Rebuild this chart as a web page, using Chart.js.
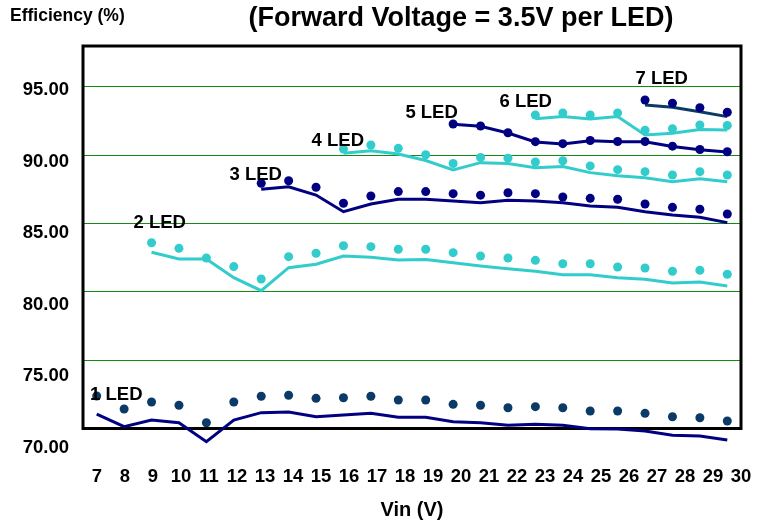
<!DOCTYPE html>
<html>
<head>
<meta charset="utf-8">
<script src="https://cdn.jsdelivr.net/npm/chart.js@4.4.0/dist/chart.umd.min.js"></script>
<style>
html,body{margin:0;padding:0;background:#ffffff;}
#wrap{width:771px;height:527px;}
</style>
</head>
<body>
<div id="wrap"><canvas id="c" width="771" height="527"></canvas></div>
<script>
// ---- data ----
const vin = [7,8,9,10,11,12,13,14,15,16,17,18,19,20,21,22,23,24,25,26,27,28,29,30];
const xTickLabels = [7,8,9,10,11,12,13,14,15,16,17,18,19,20,21,22,23,24,25,26,27,28,29,30];
const yTickLabels = [70,75,80,85,90,95];

const led1Dots = [72.38,71.43,71.94,71.70,70.42,71.94,72.36,72.43,72.21,72.25,72.36,72.09,72.09,71.77,71.70,71.52,71.60,71.52,71.28,71.28,71.11,70.86,70.79,70.55];
const led1Line = [71.06,70.13,70.62,70.42,69.03,70.62,71.16,71.21,70.86,70.99,71.11,70.82,70.82,70.50,70.42,70.23,70.31,70.23,69.99,69.96,69.82,69.50,69.45,69.16];

const led2Dots = [null,null,83.60,83.19,82.48,81.85,80.94,82.58,82.83,83.38,83.31,83.12,83.12,82.87,82.63,82.48,82.31,82.06,82.06,81.82,81.75,81.51,81.58,81.29];
const led2Line = [null,null,82.90,82.41,82.41,81.04,80.09,81.77,82.02,82.63,82.53,82.34,82.37,82.14,81.90,81.70,81.51,81.26,81.26,81.04,80.92,80.65,80.72,80.43];

const led3Dots = [null,null,null,null,null,null,87.95,88.14,87.66,86.49,87.02,87.34,87.34,87.19,87.08,87.26,87.19,86.95,86.85,86.78,86.43,86.19,86.05,85.70];
const led3Line = [null,null,null,null,null,null,87.51,87.70,87.09,85.87,86.43,86.78,86.78,86.65,86.53,86.71,86.65,86.53,86.29,86.19,85.87,85.63,85.46,85.07];

const led4Dots = [null,null,null,null,null,null,null,null,null,90.46,90.75,90.51,90.04,89.40,89.84,89.79,89.51,89.60,89.22,88.95,88.80,88.56,88.80,88.56];
const led4Line = [null,null,null,null,null,null,null,null,null,90.15,90.34,90.10,89.62,88.92,89.46,89.39,89.09,89.17,88.73,88.51,88.36,88.07,88.29,88.07];

const led5Dots = [null,null,null,null,null,null,null,null,null,null,null,null,null,92.29,92.14,91.65,91.00,90.85,91.08,91.01,91.01,90.67,90.42,90.26];
const led5Line = [null,null,null,null,null,null,null,null,null,null,null,null,null,92.27,92.12,91.63,90.98,90.83,91.06,90.99,90.99,90.65,90.40,90.24];

const led6Dots = [null,null,null,null,null,null,null,null,null,null,null,null,null,null,null,null,92.95,93.10,92.95,93.10,91.83,91.95,92.22,92.18];
const led6Line = [null,null,null,null,null,null,null,null,null,null,null,null,null,null,null,null,92.68,92.83,92.66,92.83,91.49,91.61,91.89,91.85];

const led7Dots = [null,null,null,null,null,null,null,null,null,null,null,null,null,null,null,null,null,null,null,null,94.05,93.81,93.48,93.15];
const led7Line = [null,null,null,null,null,null,null,null,null,null,null,null,null,null,null,null,null,null,null,null,93.68,93.51,93.19,92.83];

const ledNames = ['1 LED','2 LED','3 LED','4 LED','5 LED','6 LED','7 LED'];
const titleText = '(Forward Voltage = 3.5V per LED)';
const yTitleText = 'Efficiency (%)';
const xTitleText = 'Vin (V)';

// ---- styles ----
const NAVY = '#000080';
const DARK = '#0b3a66';
const CYAN = '#33CCCC';
const FONT = '"Liberation Sans", Arial, Helvetica, sans-serif';

// label anchors in data units (x on tick axis, y on value axis)
const ledLabelAnchors = [
  {x:7.69, y:72.45},
  {x:9.24, y:85.07},
  {x:12.67, y:88.56},
  {x:15.60, y:91.07},
  {x:18.95, y:93.10},
  {x:22.31, y:93.88},
  {x:27.17, y:95.56}
];

function dots(data, color){
  return {type:'line', data, showLine:false, pointRadius:4.5, pointHoverRadius:4.5,
    pointBackgroundColor:color, pointBorderColor:color, pointBorderWidth:0,
    borderColor:color, backgroundColor:color, clip:false};
}
function line(data, color){
  return {type:'line', data, pointRadius:0, pointHoverRadius:0, borderColor:color,
    borderWidth:3, tension:0, fill:false, clip:false};
}

const decor = {
  id:'decor',
  beforeDatasetsDraw(chart){
    const {ctx, chartArea:a} = chart;
    ctx.save();
    ctx.strokeStyle = '#000';
    ctx.lineWidth = 3;
    ctx.strokeRect(a.left, a.top, a.right - a.left, a.bottom - a.top);
    ctx.restore();
  },
  afterDatasetsDraw(chart){
    const {ctx} = chart;
    const xs = chart.scales.x2, ys = chart.scales.y;
    ctx.save();
    ctx.fillStyle = '#000';
    ctx.font = 'bold 18.5px ' + FONT;
    ctx.textAlign = 'center';
    ctx.textBaseline = 'middle';
    ledNames.forEach((t,i)=>{
      const p = ledLabelAnchors[i];
      ctx.fillText(t, xs.getPixelForValue(p.x), ys.getPixelForValue(p.y));
    });
    ctx.restore();
  },
  afterDraw(chart){
    const {ctx} = chart;
    ctx.save();
    ctx.fillStyle = '#000';
    ctx.textBaseline = 'middle';
    ctx.font = 'bold 27px ' + FONT;
    ctx.textAlign = 'center';
    ctx.fillText(titleText, 461, 19);
    ctx.font = 'bold 17.5px ' + FONT;
    ctx.textAlign = 'left';
    ctx.fillText(yTitleText, 10, 16);
    ctx.restore();
  }
};

new Chart(document.getElementById('c'), {
  type:'line',
  data:{
    labels: vin,
    datasets:[
      dots(led1Dots, DARK), line(led1Line, NAVY),
      dots(led2Dots, CYAN), line(led2Line, CYAN),
      dots(led3Dots, NAVY), line(led3Line, NAVY),
      dots(led4Dots, CYAN), line(led4Line, CYAN),
      dots(led5Dots, NAVY), line(led5Line, NAVY),
      dots(led6Dots, CYAN), line(led6Line, CYAN),
      dots(led7Dots, NAVY), line(led7Line, DARK)
    ]
  },
  options:{
    responsive:false,
    animation:false,
    events:[],
    layout:{padding:{top:46, right:30, left:0, bottom:0}},
    plugins:{legend:{display:false}, tooltip:{enabled:false}, title:{display:false}},
    scales:{
      x:{type:'category', display:false, offset:true},
      x2:{
        type:'linear', position:'bottom', min:6.5, max:30,
        grid:{display:false, drawTicks:true, tickLength:37}, border:{display:false},
        afterBuildTicks:(s)=>{ s.ticks = xTickLabels.map(v=>({value:v})); },
        ticks:{autoSkip:false, maxRotation:0, padding:0, color:'#000',
          font:{family:FONT, size:18.5, weight:'bold'}},
        title:{display:true, text:xTitleText, color:'#000',
          font:{family:FONT, size:20, weight:'bold'}, padding:{top:0, bottom:5}},
        afterFit:(s)=>{ s.height = 98.5; }
      },
      y:{
        type:'linear', position:'left', min:70, max:98,
        afterBuildTicks:(s)=>{ s.ticks = yTickLabels.map(v=>({value:v})); },
        ticks:{display:false},
        grid:{color:'#138a13', lineWidth:1, drawTicks:false},
        border:{display:false},
        afterFit:(s)=>{ s.width = 0; }
      },
      y2:{
        type:'linear', position:'left', min:71.36, max:98.07,
        grid:{display:false, drawTicks:false}, border:{display:false},
        afterBuildTicks:(s)=>{ s.ticks = yTickLabels.map(v=>({value:v})); },
        ticks:{autoSkip:false, padding:14, color:'#000',
          callback:(v)=>Number(v).toFixed(2),
          font:{family:FONT, size:18.5, weight:'bold'}},
        afterFit:(s)=>{ s.width = 83; }
      }
    }
  },
  plugins:[decor]
});
</script>
</body>
</html>
